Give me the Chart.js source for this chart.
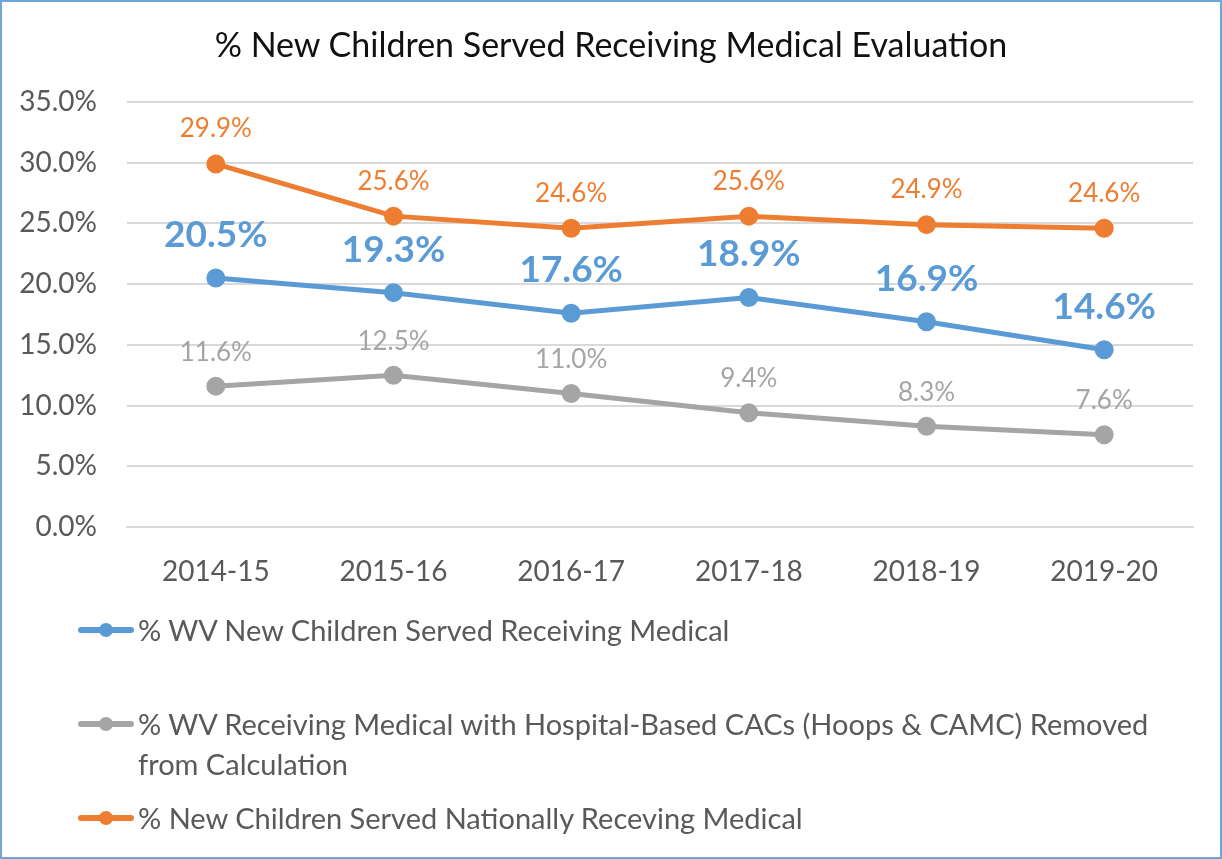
<!DOCTYPE html>
<html>
<head>
<meta charset="utf-8">
<script src="https://cdn.jsdelivr.net/npm/chart.js@4/dist/chart.umd.min.js"></script>
<style>
  body { margin: 0; background: #fff; }
  #wrap { position: relative; width: 1222px; height: 859px; }
  #wrap canvas { position: absolute; left: 0; top: 0; }
  #title { position: absolute; left: 0; top: 24px; width: 1222px; text-align: center;
           font-family: Lato, sans-serif; font-size: 34px; line-height: 40px; color: #111; }
  #frame { position: absolute; left: 0; top: 0; width: 1222px; height: 859px; box-sizing: border-box;
           border: 2px solid #6ea6da; pointer-events: none; }
  .leg { position: absolute; left: 78px; font-family: Lato, sans-serif; font-size: 29px; line-height: 40px;
         color: #595959; display: flex; align-items: flex-start; }
  .leg .mark { position: relative; width: 56px; height: 40px; margin-right: 4px; flex: none; }
  .leg .mark .ln { position: absolute; left: 0; right: 0; top: 17px; height: 6px; border-radius: 3px; }
  .leg .mark .dot { position: absolute; left: 21px; top: 13px; width: 14px; height: 14px; border-radius: 50%; }
</style>
</head>
<body>
<div id="wrap">
  <canvas id="chart"></canvas>
  <div id="title">% New Children Served Receiving Medical Evaluation</div>
  <div id="legend"></div>
  <div id="frame"></div>
</div>
<script>
// dados do gráfico
const years = ["2014-15", "2015-16", "2016-17", "2017-18", "2018-19", "2019-20"];
const wvMedical = [20.5, 19.3, 17.6, 18.9, 16.9, 14.6];
const wvNoHospital = [11.6, 12.5, 11.0, 9.4, 8.3, 7.6];
const national = [29.9, 25.6, 24.6, 25.6, 24.9, 24.6];
const yTicks = [0, 5, 10, 15, 20, 25, 30, 35];

const labelBlue = "% WV New Children Served Receiving Medical";
const labelGray = ["% WV Receiving Medical with Hospital-Based CACs (Hoops & CAMC) Removed", "from Calculation"];
const labelOrange = "% New Children Served Nationally Receving Medical";

// Escreve o valor em cima de cada ponto
const pointLabels = {
    id: "pointLabels",
    afterDatasetsDraw(chart) {
        const ctx = chart.ctx;
        chart.data.datasets.forEach((ds, i) => {
            const meta = chart.getDatasetMeta(i);
            ctx.save();
            ctx.font = ds.labelFont;
            ctx.fillStyle = ds.borderColor;
            ctx.textAlign = "center";
            ctx.textBaseline = "middle";
            meta.data.forEach((pt, j) => {
                ctx.fillText(ds.data[j].toFixed(1) + "%", pt.x, pt.y - ds.labelOffset);
            });
            ctx.restore();
        });
    },
};

const chart = new Chart(document.getElementById("chart"), {
    type: "line",
    data: {
        labels: years,
        datasets: [
            {
                label: labelBlue,
                data: wvMedical,
                borderColor: "#5b9bd5",
                backgroundColor: "#5b9bd5",
                borderWidth: 5,
                pointRadius: 7,
                labelFont: "bold 37px Lato",
                labelOffset: 43,
            },
            {
                label: labelGray,
                data: wvNoHospital,
                borderColor: "#a5a5a5",
                backgroundColor: "#a5a5a5",
                borderWidth: 5,
                pointRadius: 7,
                labelFont: "26px Lato",
                labelOffset: 34,
            },
            {
                label: labelOrange,
                data: national,
                borderColor: "#ed7d31",
                backgroundColor: "#ed7d31",
                borderWidth: 5,
                pointRadius: 7,
                labelFont: "26px Lato",
                labelOffset: 35,
            },
        ],
    },
    options: {
        responsive: true,
        maintainAspectRatio: false,
        animation: false,
        layout: { padding: { left: 0, right: 29, top: 102, bottom: 259 } },
        plugins: {
            legend: { display: false },
            tooltip: { enabled: false },
        },
        scales: {
            x: {
                offset: true,
                afterFit: (s) => { s.height = 73; },
                grid: { display: false, drawTicks: false },
                border: { display: true, color: "#d9d9d9", width: 2 },
                ticks: { color: "#595959", padding: 28, font: { family: "Lato", size: 28 } },
            },
            y: {
                min: 0,
                max: 35,
                afterFit: (s) => { s.width = 127; },
                afterBuildTicks: (s) => { s.ticks = yTicks.map((v) => ({ value: v })); },
                grid: { color: "#d9d9d9", lineWidth: 2, drawTicks: false },
                border: { display: false },
                ticks: {
                    color: "#595959",
                    padding: 30,
                    font: { family: "Lato", size: 28 },
                    callback: (v) => v.toFixed(1) + "%",
                },
            },
        },
    },
    plugins: [pointLabels],
});

// Legenda em HTML, montada a partir dos datasets
const legendTops = [610, 704, 798];
const legend = document.getElementById("legend");
chart.data.datasets.forEach((ds, i) => {
    const row = document.createElement("div");
    row.className = "leg";
    row.style.top = legendTops[i] + "px";
    const mark = document.createElement("span");
    mark.className = "mark";
    mark.innerHTML = `<span class="ln" style="background:${ds.borderColor}"></span><span class="dot" style="background:${ds.borderColor}"></span>`;
    const txt = document.createElement("span");
    const lines = Array.isArray(ds.label) ? ds.label : [ds.label];
    lines.forEach((l, k) => {
        if (k > 0) txt.appendChild(document.createElement("br"));
        txt.appendChild(document.createTextNode(l));
    });
    row.appendChild(mark);
    row.appendChild(txt);
    legend.appendChild(row);
});
</script>
</body>
</html>
